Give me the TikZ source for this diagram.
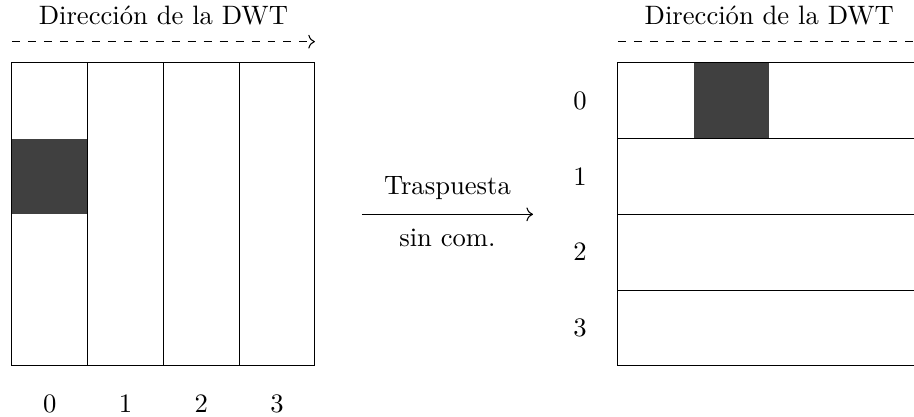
\documentclass[tikz,border=0pt]{standalone}
\usepackage{fontspec}
\usetikzlibrary{arrows.meta,positioning,calc}
\definecolor{cellgray}{RGB}{64,64,64}

\begin{document}
\begin{tikzpicture}[
    lbl/.style={font=\normalsize},
    dwtarr/.style={dashed, ->},
    darkcell/.style={fill=cellgray, draw=black}]

    \useasboundingbox (-0.158,-0.673) rectangle (11.91,4.83);

    % Left matrix (columns)
    \fill[cellgray] (0,2) rectangle (1,3);
    \draw (0,0) rectangle (4,4);
    \foreach \x in {1,2,3}
        \draw (\x,0) -- (\x,4);
    \foreach \x in {0,1,2,3}
        \node[lbl] (c\x) at (\x+0.5,-0.5) {$\x$};

    % Right matrix (rows)
    \fill[cellgray] (9,3) rectangle (10,4);
    \draw (8,0) rectangle (12,4);
    \foreach \y in {1,2,3}
        \draw (8,\y) -- (12,\y);
    \foreach \r in {0,1,2,3}
        \node[lbl] (r\r) at (7.5,3.5-\r) {$\r$};

    % DWT direction
    \node[lbl] (dirL) at (2,4.62) {Dirección de la DWT};
    \node[lbl] (dirR) at (10,4.62) {Dirección de la DWT};
    \coordinate (aL) at (0,4.28);
    \coordinate (bL) at (4,4.28);
    \coordinate (aR) at (8,4.28);
    \coordinate (bR) at (12,4.28);
    \draw[dwtarr] (aL) -- (bL);
    \draw[dwtarr] (aR) -- (bR);

    % Transpose
    \coordinate (tA) at (4.62,2);
    \coordinate (tB) at (6.88,2);
    \draw[->] (tA) -- node[above=2pt, lbl]{Traspuesta}
                      node[below=2pt, lbl]{sin com.} (tB);
\end{tikzpicture}
\end{document}
